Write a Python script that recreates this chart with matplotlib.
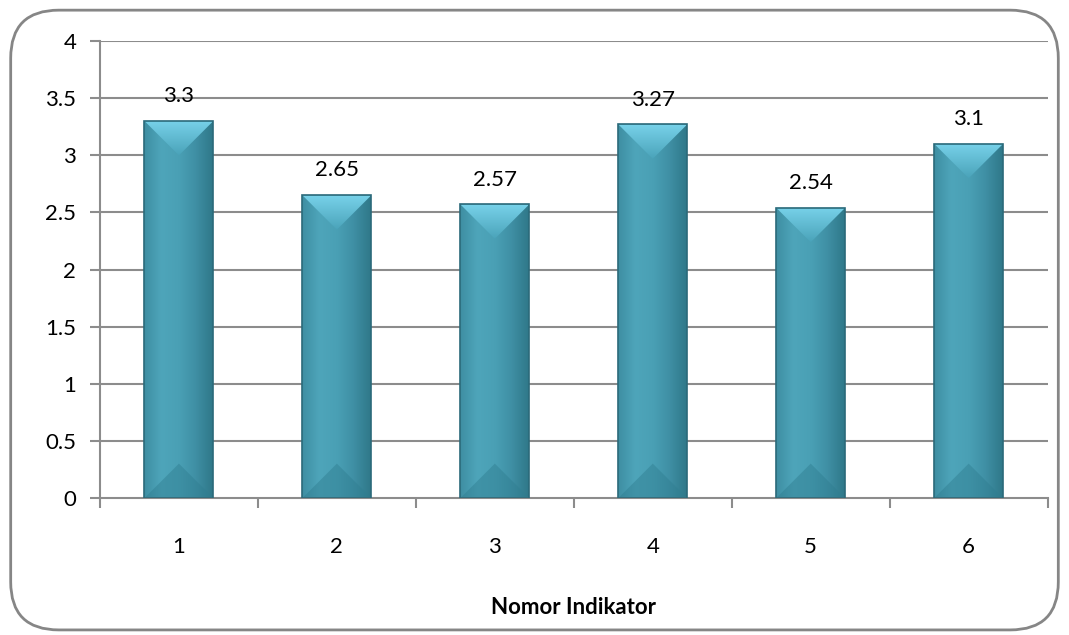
import numpy as np
import matplotlib; matplotlib.use("Agg")
import matplotlib.pyplot as plt
from matplotlib.patches import FancyBboxPatch, Polygon, Rectangle
from matplotlib.colors import LinearSegmentedColormap

categories = ["1", "2", "3", "4", "5", "6"]
values = [3.3, 2.65, 2.57, 3.27, 2.54, 3.1]
value_labels = ["3.3", "2.65", "2.57", "3.27", "2.54", "3.1"]
yticks = [0, 0.5, 1, 1.5, 2, 2.5, 3, 3.5, 4]
ytick_labels = ["0", "0.5", "1", "1.5", "2", "2.5", "3", "3.5", "4"]

plt.rcParams["font.family"] = ["Lato", "DejaVu Sans"]

fig = plt.figure(figsize=(10.69, 6.35), dpi=100)
frame = FancyBboxPatch((0.010, 0.008), 0.980, 0.976, boxstyle="round,pad=0,rounding_size=0.045",
                       transform=fig.transFigure, fc="none", ec="#868686", lw=2,
                       mutation_aspect=1.68, zorder=-1)
fig.patches.append(frame)
ax = fig.add_axes([0.0935, 0.2157, 0.8865, 0.7197])
ax.patch.set_alpha(0)

grid_c = "#8c8c8c"
for y in yticks[1:]:
    ax.axhline(y, color=grid_c, lw=1.5, zorder=1)
for s in ["top", "right"]:
    ax.spines[s].set_visible(False)
for s in ["left", "bottom"]:
    ax.spines[s].set_color(grid_c); ax.spines[s].set_linewidth(1.5)

fs = 16
ax.set_yticks(yticks, ytick_labels, fontsize=fs)
ax.set_xticks(np.arange(1, 7), categories, fontsize=fs)
ax.set_xticks(np.arange(0.5, 7, 1), minor=True)
ax.tick_params(axis="x", which="major", length=0, pad=28)
ax.tick_params(axis="x", which="minor", length=7, color=grid_c, width=1.5)
ax.tick_params(axis="y", length=7, color=grid_c, width=1.5, pad=10)
ax.set_xlabel("Nomor Indikator", fontsize=fs, fontweight="bold", labelpad=29)

# bevelled bars: horizontal gradient body, shaded top and bottom facets
w = 0.218
d = w * (ax.bbox.width / 6) / (ax.bbox.height / 4)
body_cmap = LinearSegmentedColormap.from_list(
    "body", ["#3e8ea2", "#4ea5ba", "#4aa0b5", "#3f8fa4", "#2f7889"])
top_cmap = LinearSegmentedColormap.from_list("top", ["#4aa3b9", "#78d2ea"])
hgrad = np.linspace(0, 1, 256).reshape(1, -1)
vgrad = np.linspace(0, 1, 256).reshape(-1, 1)
for i, h in enumerate(values):
    c = i + 1
    body = Rectangle((c - w, 0), 2 * w, h, fc="none", ec="none")
    ax.add_patch(body)
    im = ax.imshow(hgrad, cmap=body_cmap, extent=(c - w, c + w, 0, h), aspect="auto", zorder=2)
    im.set_clip_path(body)
    tri = Polygon([(c - w, h), (c + w, h), (c, h - d)], closed=True, fc="none", ec="none")
    ax.add_patch(tri)
    im = ax.imshow(vgrad, cmap=top_cmap, extent=(c - w, c + w, h - d, h), origin="lower",
                   aspect="auto", zorder=3)
    im.set_clip_path(tri)
    ax.add_patch(Polygon([(c - w, 0), (c + w, 0), (c, d)], closed=True,
                         fc="#2f7d90", ec="none", alpha=0.45, zorder=3))
    ax.add_patch(Rectangle((c - w, 0), 2 * w, h, fc="none", ec="#2b6a7a", lw=1.2, zorder=4))
    ax.text(c, h + 0.13, value_labels[i], ha="center", va="bottom", fontsize=fs, zorder=5)

ax.set_xlim(0.5, 6.5); ax.set_ylim(0, 4)
fig.savefig("out.png", dpi=100)
